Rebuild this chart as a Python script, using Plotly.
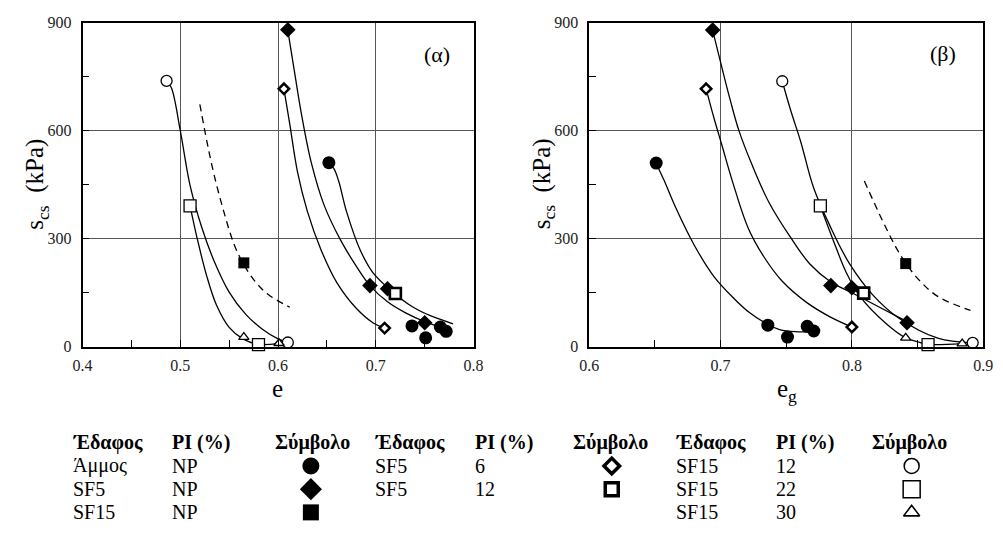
import plotly.graph_objects as go

W, H = 1003, 533
FONT = "Liberation Serif"

# ---------------- data: panel (α)  s_cs vs e ----------------
a_sand_e = [0.652, 0.737, 0.751, 0.766, 0.772]
a_sand_s = [511, 58, 25, 55, 43]
a_sf5np_e = [0.610, 0.694, 0.712, 0.750]
a_sf5np_s = [880, 170, 161, 67]
a_sf15np_e = [0.565]
a_sf15np_s = [233]
a_sf5pi6_e = [0.606, 0.709]
a_sf5pi6_s = [716, 52]
a_sf5pi12_e = [0.720]
a_sf5pi12_s = [148]
a_sf15pi12_e = [0.486, 0.610]
a_sf15pi12_s = [738, 12]
a_sf15pi22_e = [0.510, 0.580]
a_sf15pi22_s = [391, 6]
a_sf15pi30_e = [0.565, 0.601]
a_sf15pi30_s = [27, 10]

# fitted curves (α)
a_c_sand_e = [0.652, 0.657, 0.662, 0.670, 0.684, 0.697, 0.714, 0.737, 0.757, 0.779]
a_c_sand_s = [509, 495, 460, 376, 269, 206, 160, 112, 85, 64]
a_c_sf5np_e = [0.610, 0.617, 0.624, 0.634, 0.647, 0.664, 0.680, 0.694, 0.712, 0.730, 0.750, 0.770]
a_c_sf5np_s = [878, 760, 645, 511, 394, 296, 224, 170, 125, 95, 70, 52]
a_c_sf5pi6_e = [0.606, 0.612, 0.620, 0.630, 0.644, 0.660, 0.680, 0.697, 0.709]
a_c_sf5pi6_s = [716, 618, 484, 376, 269, 179, 107, 67, 52]
a_c_sf15pi12_e = [0.486, 0.491, 0.500, 0.510, 0.522, 0.534, 0.550, 0.567, 0.584, 0.600, 0.609]
a_c_sf15pi12_s = [738, 718, 600, 448, 331, 242, 152, 90, 49, 22, 13]
a_c_sf15pi22_e = [0.510, 0.517, 0.527, 0.537, 0.550, 0.564, 0.580, 0.600]
a_c_sf15pi22_s = [391, 304, 197, 116, 54, 22, 7, 9]
a_c_sf15np_e = [0.520, 0.527, 0.534, 0.544, 0.555, 0.565, 0.577, 0.590, 0.612]
a_c_sf15np_s = [673, 573, 484, 380, 285, 228, 180, 145, 110]

# ---------------- data: panel (β)  s_cs vs e_g ----------------
b_sand_e = [0.651, 0.736, 0.751, 0.766, 0.771]
b_sand_s = [510, 60, 27, 57, 44]
b_sf5np_e = [0.694, 0.784, 0.800, 0.842]
b_sf5np_s = [879, 170, 164, 67]
b_sf15np_e = [0.841]
b_sf15np_s = [231]
b_sf5pi6_e = [0.689, 0.800]
b_sf5pi6_s = [716, 55]
b_sf5pi12_e = [0.809]
b_sf5pi12_s = [149]
b_sf15pi12_e = [0.747, 0.892]
b_sf15pi12_s = [737, 11]
b_sf15pi22_e = [0.776, 0.858]
b_sf15pi22_s = [391, 6]
b_sf15pi30_e = [0.841, 0.884]
b_sf15pi30_s = [25, 9]

b_c_sand_e = [0.651, 0.657, 0.666, 0.680, 0.695, 0.710, 0.722, 0.736, 0.745, 0.757, 0.770]
b_c_sand_s = [509, 462, 385, 282, 195, 135, 95, 62, 48, 42, 42]
b_c_sf5np_e = [0.694, 0.700, 0.707, 0.714, 0.724, 0.737, 0.754, 0.768, 0.784, 0.800, 0.820, 0.842]
b_c_sf5np_s = [878, 790, 690, 600, 505, 400, 300, 230, 180, 150, 112, 70]
b_c_sf5pi6_e = [0.689, 0.695, 0.701, 0.709, 0.721, 0.733, 0.747, 0.766, 0.783, 0.800]
b_c_sf5pi6_s = [716, 635, 560, 460, 330, 250, 182, 122, 84, 55]
b_c_sf15pi12_e = [0.747, 0.7535, 0.761, 0.771, 0.7834, 0.7983, 0.8157, 0.8356, 0.8654, 0.892]
b_c_sf15pi12_s = [737, 655, 570, 440, 335, 230, 145, 80, 24, 11]
b_c_sf15pi22_e = [0.776, 0.786, 0.796, 0.806, 0.826, 0.841, 0.851, 0.858, 0.884]
b_c_sf15pi22_s = [391, 294, 204, 141, 65, 25, 13, 7, 9]
b_c_sf15np_e = [0.8095, 0.8231, 0.833, 0.840, 0.8505, 0.8654, 0.8903]
b_c_sf15np_s = [460, 352, 280, 238, 188, 140, 101]

# axis ticks
a_xticks = [0.4, 0.5, 0.6, 0.7, 0.8]
b_xticks = [0.6, 0.7, 0.8, 0.9]
yticks = [0, 300, 600, 900]

# legend table text
hdr = ["Έδαφος", "PI (%)", "Σύμβολο"]
g1_soil = ["Άμμος", "SF5", "SF15"]
g1_pi = ["NP", "NP", "NP"]
g2_soil = ["SF5", "SF5"]
g2_pi = ["6", "12"]
g3_soil = ["SF15", "SF15", "SF15"]
g3_pi = ["12", "22", "30"]

# ---------------- styles ----------------
STY = {
    "sand": dict(symbol="circle", size=13, color="black", line=dict(width=0)),
    "sf5np": dict(symbol="diamond", size=12, color="black", line=dict(width=0)),
    "sf15np": dict(symbol="square", size=11, color="black", line=dict(width=0)),
    "sf5pi6": dict(symbol="diamond", size=8, color="white", line=dict(width=2.5, color="black")),
    "sf5pi12": dict(symbol="square", size=11, color="white", line=dict(width=2.6, color="black")),
    "sf15pi12": dict(symbol="circle", size=11, color="white", line=dict(width=1.3, color="black")),
    "sf15pi22": dict(symbol="square", size=12, color="white", line=dict(width=1.3, color="black")),
    "sf15pi30": dict(symbol="triangle-up", size=9, color="white", line=dict(width=1.3, color="black")),
}

fig = go.Figure()

def curve(x, y, xa, ya, dash="solid"):
    fig.add_trace(go.Scatter(x=x, y=y, mode="lines", xaxis=xa, yaxis=ya,
                             line=dict(color="black", width=1.3, dash=dash,
                                       shape="spline", smoothing=1.0),
                             hoverinfo="skip", showlegend=False))

def pts(x, y, key, xa, ya):
    fig.add_trace(go.Scatter(x=x, y=y, mode="markers", xaxis=xa, yaxis=ya,
                             marker=STY[key], cliponaxis=False, showlegend=False))

DASH = "7px,5px"
# panel α
curve(a_c_sand_e, a_c_sand_s, "x", "y")
curve(a_c_sf5np_e, a_c_sf5np_s, "x", "y")
curve(a_c_sf5pi6_e, a_c_sf5pi6_s, "x", "y")
curve(a_c_sf15pi12_e, a_c_sf15pi12_s, "x", "y")
curve(a_c_sf15pi22_e, a_c_sf15pi22_s, "x", "y")
curve(a_c_sf15np_e, a_c_sf15np_s, "x", "y", DASH)
for key, ex, sy in [("sand", a_sand_e, a_sand_s), ("sf5np", a_sf5np_e, a_sf5np_s),
                    ("sf15np", a_sf15np_e, a_sf15np_s), ("sf5pi6", a_sf5pi6_e, a_sf5pi6_s),
                    ("sf15pi12", a_sf15pi12_e, a_sf15pi12_s), ("sf15pi22", a_sf15pi22_e, a_sf15pi22_s),
                    ("sf15pi30", a_sf15pi30_e, a_sf15pi30_s), ("sf5pi12", a_sf5pi12_e, a_sf5pi12_s)]:
    pts(ex, sy, key, "x", "y")

# panel β
curve(b_c_sand_e, b_c_sand_s, "x2", "y2")
curve(b_c_sf5np_e, b_c_sf5np_s, "x2", "y2")
curve(b_c_sf5pi6_e, b_c_sf5pi6_s, "x2", "y2")
curve(b_c_sf15pi12_e, b_c_sf15pi12_s, "x2", "y2")
curve(b_c_sf15pi22_e, b_c_sf15pi22_s, "x2", "y2")
curve(b_c_sf15np_e, b_c_sf15np_s, "x2", "y2", DASH)
for key, ex, sy in [("sand", b_sand_e, b_sand_s), ("sf5np", b_sf5np_e, b_sf5np_s),
                    ("sf15np", b_sf15np_e, b_sf15np_s), ("sf5pi6", b_sf5pi6_e, b_sf5pi6_s),
                    ("sf15pi12", b_sf15pi12_e, b_sf15pi12_s), ("sf15pi22", b_sf15pi22_e, b_sf15pi22_s),
                    ("sf15pi30", b_sf15pi30_e, b_sf15pi30_s), ("sf5pi12", b_sf5pi12_e, b_sf5pi12_s)]:
    pts(ex, sy, key, "x2", "y2")

# ---------------- legend table (overlay pixel axis) ----------------
sym_x = [307, 614, 920]
row_y = [449, 473, 497, 521]
leg_keys = [("sand", 0, 1), ("sf5np", 0, 2), ("sf15np", 0, 3),
            ("sf5pi6", 1, 1), ("sf5pi12", 1, 2),
            ("sf15pi12", 2, 1), ("sf15pi22", 2, 2), ("sf15pi30", 2, 3)]
leg_size = {"sand": 17, "sf5np": 17, "sf15np": 16, "sf5pi6": 12, "sf5pi12": 13,
            "sf15pi12": 15, "sf15pi22": 17, "sf15pi30": 14}
leg_lw = {"sf5pi6": 3.5, "sf5pi12": 3.5, "sf15pi12": 1.5, "sf15pi22": 1.5, "sf15pi30": 1.6}
for key, g, r in leg_keys:
    m = dict(STY[key])
    m["size"] = leg_size[key]
    if key in leg_lw:
        m["line"] = dict(width=leg_lw[key], color="black")
    fig.add_trace(go.Scatter(x=[sym_x[g]], y=[row_y[r]], mode="markers", xaxis="x3", yaxis="y3",
                             marker=m, cliponaxis=False, showlegend=False, hoverinfo="skip"))

ann = []
def txt(px, py, s, size=20, bold=False, xanchor="left", yanchor="middle", angle=0):
    ann.append(dict(x=px / W, y=1 - py / H, xref="paper", yref="paper", text=(f"<b>{s}</b>" if bold else s),
                    showarrow=False, xanchor=xanchor, yanchor=yanchor, textangle=angle,
                    font=dict(family=FONT, size=size, color="black")))

col_x = [[62, 163, 268], [370, 472, 572], [677, 780, 877]]
for g in range(3):
    for c in range(3):
        txt(col_x[g][c], row_y[0], hdr[c], bold=True)
for groups, g in [((g1_soil, g1_pi), 0), ((g2_soil, g2_pi), 1), ((g3_soil, g3_pi), 2)]:
    soil, pi = groups
    for r in range(len(soil)):
        txt(col_x[g][0], row_y[r + 1], soil[r])
        txt(col_x[g][1], row_y[r + 1], pi[r])

# panel labels and axis titles
txt(436, 48, "(α)", size=22, xanchor="center")
txt(952, 47, "(β)", size=22, xanchor="center")
txt(27, 182, "s<sub>cs</sub>  (kPa)", size=25, xanchor="center", angle=-90)
txt(544, 182, "s<sub>cs</sub>  (kPa)", size=25, xanchor="center", angle=-90)
txt(273, 393, "e", size=25, xanchor="center")
txt(793, 395, "e<sub>g</sub>", size=25, xanchor="center")

# ---------------- axes ----------------
def xax(dom, tv, anchor):
    return dict(domain=dom, range=[tv[0], tv[-1]], tickmode="linear", tick0=tv[0],
                dtick=round(tv[1] - tv[0], 6), tickformat=".1f", anchor=anchor,
                showline=True, mirror=True, linecolor="black", linewidth=1.5,
                showgrid=True, gridcolor="#555", gridwidth=1, zeroline=False,
                ticks="inside", ticklen=7, tickcolor="black", ticklabelstandoff=3,
                minor=dict(dtick=round((tv[1] - tv[0]) / 2, 6), ticks="inside", ticklen=7,
                           tickcolor="black", showgrid=False),
                tickfont=dict(family=FONT, size=16, color="#222"), fixedrange=True)

def yax(dom, anchor):
    return dict(domain=dom, range=[yticks[0], yticks[-1]], tickmode="linear", tick0=yticks[0],
                dtick=yticks[1] - yticks[0], anchor=anchor,
                showline=True, mirror=True, linecolor="black", linewidth=1.5,
                showgrid=True, gridcolor="#555", gridwidth=1, zeroline=False,
                ticks="inside", ticklen=7, tickcolor="black", ticklabelstandoff=6,
                minor=dict(dtick=(yticks[1] - yticks[0]) / 2, ticks="inside", ticklen=7,
                           tickcolor="black", showgrid=False),
                tickfont=dict(family=FONT, size=16, color="#222"), fixedrange=True)

ydom = [1 - 350 / H, 1 - 15 / H]
fig.update_layout(
    width=W, height=H, margin=dict(l=0, r=0, t=0, b=0),
    paper_bgcolor="white", plot_bgcolor="rgba(0,0,0,0)", showlegend=False,
    xaxis=xax([74 / W, 473 / W], a_xticks, "y"),
    yaxis=yax(ydom, "x"),
    xaxis2=xax([591 / W, 993 / W], b_xticks, "y2"),
    yaxis2=yax(ydom, "x2"),
    xaxis3=dict(domain=[0, 1], range=[0, W], visible=False, anchor="y3", fixedrange=True),
    yaxis3=dict(domain=[0, 1], range=[H, 0], visible=False, anchor="x3", fixedrange=True),
    annotations=ann,
)
fig.write_html("out.html")
